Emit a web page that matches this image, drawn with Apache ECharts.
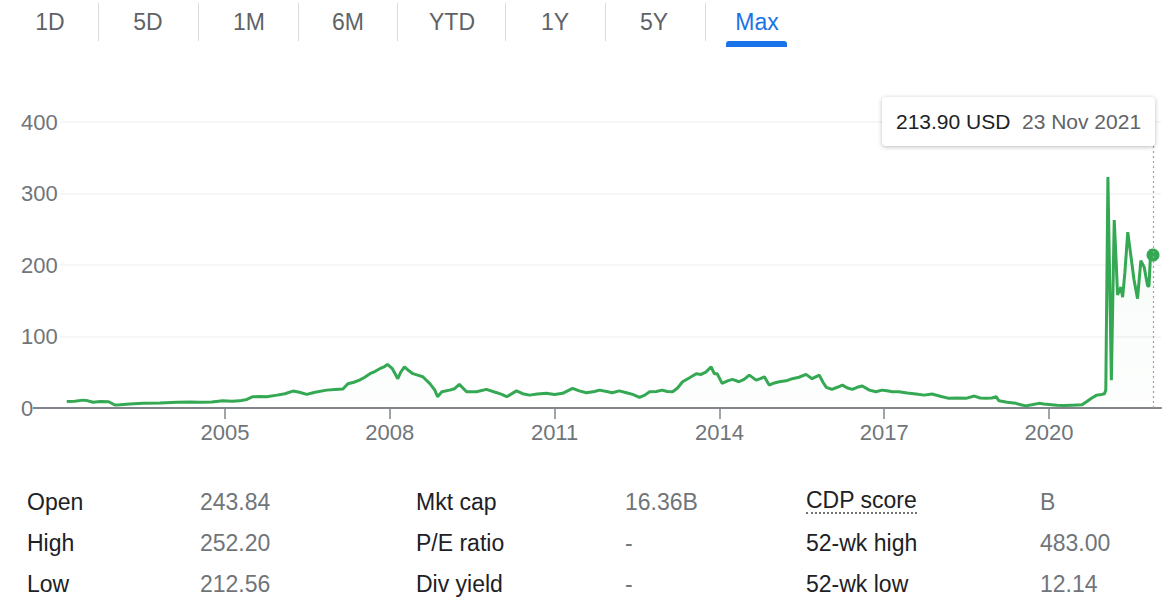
<!DOCTYPE html>
<html>
<head>
<meta charset="utf-8">
<script src="https://cdn.jsdelivr.net/npm/echarts@6/dist/echarts.min.js"></script>
<style>
  body{margin:0;width:1169px;height:606px;overflow:hidden;background:#fff;position:relative;
       font-family:'Liberation Sans',Arial,sans-serif;}
  #chart{position:absolute;left:0;top:0;width:1169px;height:606px;}
  .tab{position:absolute;top:8px;width:100px;text-align:center;font-size:23px;line-height:28px;color:#5f6368;z-index:2;}
  .tab.active{color:#1a73e8;}
  .sep{position:absolute;top:3px;width:1px;height:38px;background:#dadce0;z-index:2;}
  .bar{position:absolute;left:726px;top:41px;width:61px;height:6px;background:#1a73e8;border-radius:3px 3px 0 0;z-index:2;}
  .cell{position:absolute;font-size:23px;line-height:28px;white-space:nowrap;z-index:2;}
  .lab{color:#202124;}
  .val{color:#70757a;}
  .dotted{border-bottom:2px dotted #70757a;line-height:24px;}
  #tip{position:absolute;left:882px;top:97px;width:273px;height:49px;background:#fff;border-radius:4px;
       box-shadow:0 1px 4px rgba(60,64,67,0.35);z-index:3;font-size:21px;line-height:49px;white-space:nowrap;}
  #tip .p{position:absolute;left:14px;color:#202124;}
  #tip .d{position:absolute;left:140px;color:#5f6368;}
</style>
</head>
<body>
<div id="chart"></div>
<div id="ui"></div>
<div id="tip"><span class="p">213.90 USD</span><span class="d">23 Nov 2021</span></div>
<script>
// ---- data ----
const rangeTabs = ['1D','5D','1M','6M','YTD','1Y','5Y','Max'];
const tickYears = ['2005','2008','2011','2014','2017','2020'];
const yTicks = [0, 100, 200, 300, 400];

const dates = [
 '2002-02-14','2002-04-08','2002-06-03','2002-07-05','2002-08-08','2002-09-24','2002-11-20','2002-12-31',
 '2003-02-03','2003-04-08','2003-07-05','2003-10-27','2004-02-17','2004-05-11','2004-07-19','2004-10-05',
 '2004-12-17','2005-02-17','2005-04-08','2005-05-26','2005-07-05','2005-08-23','2005-10-05','2005-12-13',
 '2006-02-03','2006-03-29','2006-05-11','2006-06-28','2006-08-23','2006-11-07','2007-01-01','2007-02-24',
 '2007-03-29','2007-05-08','2007-06-14','2007-07-19','2007-08-23','2007-09-24','2007-10-27','2007-11-28',
 '2007-12-17','2008-01-19','2008-02-24','2008-03-14','2008-04-08','2008-05-08','2008-06-03','2008-07-05',
 '2008-08-08','2008-09-24','2008-10-27','2008-11-14','2008-12-13','2009-02-03','2009-03-07','2009-04-08',
 '2009-05-26','2009-07-31','2009-10-05','2009-12-13','2010-01-15','2010-02-17','2010-04-23','2010-06-03',
 '2010-07-19','2010-09-09','2010-11-07','2011-01-01','2011-02-24','2011-05-01','2011-06-14','2011-07-31',
 '2011-09-24','2011-10-27','2011-12-13','2012-01-19','2012-03-07','2012-04-23','2012-06-03','2012-07-19',
 '2012-08-23','2012-09-24','2012-11-07','2012-12-17','2013-01-19','2013-02-24','2013-03-29','2013-05-01',
 '2013-06-14','2013-07-31','2013-09-02','2013-10-05','2013-11-07','2013-11-28','2013-12-17','2014-01-19',
 '2014-02-24','2014-03-29','2014-05-11','2014-06-14','2014-07-19','2014-09-02','2014-10-01','2014-10-27',
 '2014-11-28','2015-01-01','2015-02-03','2015-03-21','2015-05-01','2015-06-14','2015-07-31','2015-09-09',
 '2015-10-27','2015-11-21','2015-12-13','2016-01-19','2016-02-24','2016-03-29','2016-05-01','2016-06-03',
 '2016-07-05','2016-08-08','2016-09-24','2016-11-07','2016-12-17','2017-01-19','2017-02-24','2017-04-08',
 '2017-06-03','2017-07-31','2017-09-24','2017-11-14','2018-01-15','2018-03-07','2018-05-01','2018-06-28',
 '2018-08-23','2018-10-01','2018-11-07','2018-12-17','2019-01-15','2019-02-03','2019-03-29','2019-05-26',
 '2019-06-28','2019-07-31','2019-09-09','2019-10-27','2019-11-28','2020-01-01','2020-02-24','2020-04-08',
 '2020-06-03','2020-08-08','2020-09-09','2020-10-12','2020-11-14','2020-12-17','2021-01-04','2021-01-13',
 '2021-01-27','2021-02-19','2021-03-10','2021-03-24','2021-04-01','2021-04-23','2021-05-05','2021-05-20',
 '2021-06-08','2021-06-30','2021-07-19','2021-08-12','2021-09-03','2021-09-25','2021-10-18','2021-10-27',
 '2021-11-08','2021-11-16','2021-11-23'
];
const prices = [
 9.0, 9.5, 11, 10, 8, 9, 8.8, 4.2,
 4.5, 5.5, 6.5, 7, 8, 8.5, 8, 8.5,
 10, 9.5, 10, 12, 15.8, 16, 15.8, 18,
 20, 23.7, 22, 19, 22, 25, 26, 26.5,
 34, 36, 39, 43, 48, 51, 55, 58,
 61, 55, 41, 50, 57.6, 52, 48, 46,
 43.7, 34, 25, 15.8, 22.7, 25, 27, 33,
 22.7, 22.7, 26, 21.4, 19, 15.8, 24, 20,
 18, 19.5, 20.5, 19, 20.5, 27.4, 24, 21.4,
 23, 25, 23, 21.4, 24, 21.4, 19, 14.9,
 18, 22.7, 23, 25, 23, 22.7, 28, 36.7,
 42, 48, 47, 50.6, 57.6, 48, 48, 34.4,
 38, 40, 36.7, 40, 46, 39, 41, 43.7,
 32, 35, 36.7, 38, 41, 43, 47, 41,
 46, 36, 28.8, 26, 29, 32, 28, 26,
 29, 30.7, 25, 22.7, 25, 24, 22.7, 22.7,
 21, 19.5, 18, 19.5, 16, 13.5, 14, 13.5,
 16.7, 14, 13.5, 14, 15.8, 10, 8, 6.5,
 4.5, 3, 4.5, 6.5, 5.5, 5, 4, 3.5,
 4, 4.5, 9, 14, 18, 19, 20, 25,
 323, 39, 263, 200, 158, 169, 155, 190,
 246, 211, 180, 153, 206, 197, 171, 170,
 222, 216, 213.9
];

const statLabels1 = ['Open','High','Low'];
const statValues1 = ['243.84','252.20','212.56'];
const statLabels2 = ['Mkt cap','P/E ratio','Div yield'];
const statValues2 = ['16.36B','-','-'];
const statLabels3 = ['CDP score','52-wk high','52-wk low'];
const statValues3 = ['B','483.00','12.14'];

// ---- UI (tabs + stats table) ----
const ui = document.getElementById('ui');
const tabCenters = [50,148,249,348,452,555,654,757];
const sepX = [98,198,298,397,505,605,705];
let html = '';
rangeTabs.forEach((t,i)=>{
  html += '<div class="tab'+(t==='Max'?' active':'')+'" style="left:'+(tabCenters[i]-50)+'px">'+t+'</div>';
});
sepX.forEach(x=>{ html += '<div class="sep" style="left:'+x+'px"></div>'; });
html += '<div class="bar"></div>';
const rowTops = [488, 529, 570];
const cols = [
  [27, statLabels1, 'lab'], [200, statValues1, 'val'],
  [416, statLabels2, 'lab'], [625, statValues2, 'val'],
  [806, statLabels3, 'lab'], [1040, statValues3, 'val']
];
cols.forEach(([x, arr, cls])=>{
  arr.forEach((txt, r)=>{
    const extra = (txt==='CDP score') ? ' dotted' : '';
    html += '<div class="cell '+cls+extra+'" style="left:'+x+'px;top:'+rowTops[r]+'px">'+txt+'</div>';
  });
});
ui.innerHTML = html;

// ---- chart ----
const FONT = "'Liberation Sans', Arial, sans-serif";
function toTime(s){ const p = s.split('-'); return new Date(+p[0], +p[1]-1, +p[2]).getTime(); }
const tickTimes = tickYears.map(y => new Date(+y, 0, 1).getTime());
const seriesData = dates.map((d,i)=>[toTime(d), prices[i]]);
const lastPoint = seriesData[seriesData.length-1];

const chart = echarts.init(document.getElementById('chart'), null, {renderer:'svg'});
chart.setOption({
  animation:false,
  grid:{left:60, right:8, top:122, bottom:198},
  xAxis:{
    type:'value', min:toTime('2001-12-31'), max:toTime('2022-01-15'), scale:true,
    axisLine:{show:true, onZero:false, lineStyle:{color:'#80868b', width:2}},
    axisTick:{show:true, length:11, customValues:tickTimes, lineStyle:{color:'#80868b', width:1.5}},
    axisLabel:{customValues:tickTimes, color:'#70757a', fontSize:22, fontFamily:FONT, margin:13,
      formatter:(v)=>String(new Date(v).getFullYear())},
    splitLine:{show:false}
  },
  yAxis:{
    type:'value', min:yTicks[0], max:yTicks[yTicks.length-1], interval:100,
    axisLine:{show:false}, axisTick:{show:false},
    axisLabel:{align:'left', margin:39, color:'#70757a', fontSize:22, fontFamily:FONT},
    splitLine:{lineStyle:{color:'#f1f3f4', width:1.5}}
  },
  series:[
    {
      type:'line', data:seriesData, showSymbol:false, symbol:'none',
      lineStyle:{color:'#34a853', width:3},
      areaStyle:{color:new echarts.graphic.LinearGradient(0,0,0,1,[
        {offset:0,color:'rgba(52,168,83,0.07)'},{offset:1,color:'rgba(52,168,83,0.015)'}])},
      markLine:{silent:true, symbol:['none','none'], label:{show:false},
        lineStyle:{type:[2,3], color:'#9aa0a6', width:1.2},
        data:[{xAxis:lastPoint[0]}]},
      z:3
    },
    {
      type:'scatter', data:[lastPoint], symbol:'circle', symbolSize:13,
      itemStyle:{color:'#34a853', opacity:1}, z:4
    }
  ]
});
// extend the baseline to the left of the plot, as in the reference
const y0 = chart.convertToPixel({yAxisIndex:0}, 0);
chart.setOption({graphic:[{type:'line', shape:{x1:33, y1:y0, x2:61, y2:y0},
  style:{stroke:'#80868b', lineWidth:2}}]});
</script>
</body>
</html>
